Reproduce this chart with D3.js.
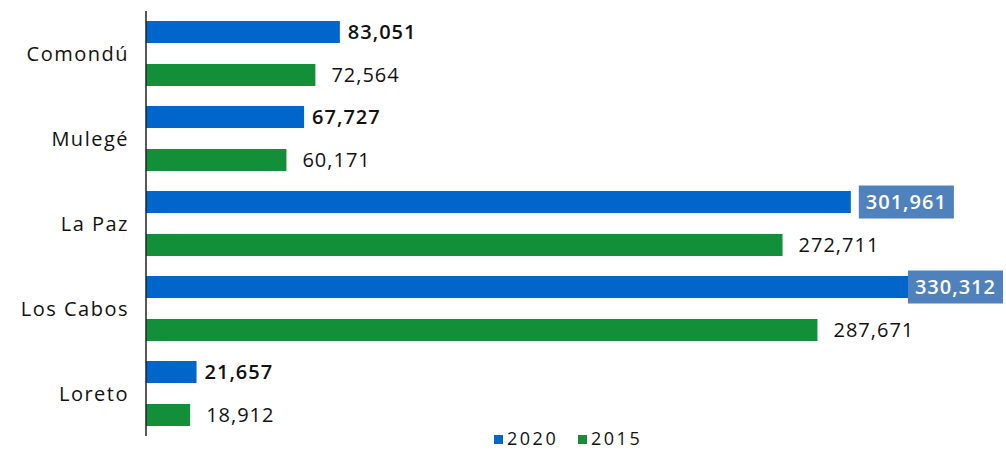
<!doctype html>
<html>
<head>
  <meta charset="utf-8">
  <title>Población por municipio</title>
  <style>
    body { margin: 0; background: #fff; }
    svg { display: block; font-family: "Open Sans", sans-serif; }
  </style>
</head>
<body>
  <div id="vis"></div>
  <script src="https://cdn.jsdelivr.net/npm/d3@7"></script>
  <script>
    var municipios = ["Comondú", "Mulegé", "La Paz", "Los Cabos", "Loreto"];
    var series = ["2020", "2015"];
    var pob2020 = [83051, 67727, 301961, 330312, 21657];
    var pob2015 = [72564, 60171, 272711, 287671, 18912];
    var resaltados = ["La Paz", "Los Cabos"];
    var colores = { "2020": "#0066CC", "2015": "#138F3A" };

    var w = 1006, h = 451;
    var fmt = d3.format(",");

    var svg = d3.select("#vis").append("svg")
      .attr("width", w)
      .attr("height", h);

    var y0 = d3.scaleBand()
      .domain(municipios)
      .range([11, 436]);

    var y1 = d3.scaleBand()
      .domain(series)
      .range([0, y0.bandwidth()])
      .paddingInner(0.488)
      .paddingOuter(0.233);

    var x = d3.scaleLinear()
      .domain([0, 330312])
      .range([146, 917]);

    var dataset = [];
    municipios.forEach(function(m, i) {
      dataset.push({ m: m, s: "2020", v: pob2020[i] });
      dataset.push({ m: m, s: "2015", v: pob2015[i] });
    });

    svg.selectAll("rect.bar")
      .data(dataset)
      .enter()
      .append("rect")
      .attr("class", "bar")
      .attr("x", x(0))
      .attr("y", function(d) { return y0(d.m) + y1(d.s); })
      .attr("width", function(d) { return x(d.v) - x(0); })
      .attr("height", y1.bandwidth())
      .attr("fill", function(d) { return colores[d.s]; });

    // etiquetas de valores
    var labels = svg.selectAll("g.lbl")
      .data(dataset)
      .enter()
      .append("g")
      .attr("class", "lbl");

    labels.each(function(d) {
      var g = d3.select(this);
      var boxed = d.s == "2020" && resaltados.indexOf(d.m) >= 0;
      var cy = y0(d.m) + y1(d.s) + y1.bandwidth() / 2;
      var t = g.append("text")
        .attr("dy", "0.36em")
        .style("font-size", "20px")
        .style("letter-spacing", "1px")
        .style("font-weight", d.s == "2020" ? 600 : 400)
        .attr("fill", boxed ? "#fff" : "#111")
        .text(fmt(d.v));
      var tw = t.node().getComputedTextLength();
      if (boxed) {
        var bw = tw + 14;
        var bx = Math.min(x(d.v) + 8, w - 3 - bw);
        g.insert("rect", "text")
          .attr("x", bx)
          .attr("y", cy - 16.5)
          .attr("width", bw)
          .attr("height", 33)
          .attr("fill", "#4F81BD");
        t.attr("x", bx + 7).attr("y", cy);
      } else {
        var off = d.s == "2020" ? 8 : 16;
        t.attr("x", x(d.v) + off).attr("y", cy);
      }
    });

    // eje vertical
    svg.append("line")
      .attr("x1", 146).attr("x2", 146)
      .attr("y1", 11).attr("y2", 436)
      .attr("stroke", "#222")
      .attr("stroke-width", 1.5);

    svg.selectAll("text.cat")
      .data(municipios)
      .enter()
      .append("text")
      .attr("class", "cat")
      .attr("x", 129)
      .attr("y", function(d) { return y0(d) + y0.bandwidth() / 2; })
      .attr("dy", "0.36em")
      .attr("text-anchor", "end")
      .style("font-size", "20px")
      .style("letter-spacing", "1.5px")
      .attr("fill", "#111")
      .text(function(d) { return d; });

    // leyenda
    var leg = svg.selectAll("g.leg")
      .data(series)
      .enter()
      .append("g")
      .attr("class", "leg")
      .attr("transform", function(d, i) { return "translate(" + (494 + i * 84) + ",439)"; });

    leg.append("rect")
      .attr("x", 0).attr("y", -4)
      .attr("width", 9).attr("height", 9)
      .attr("fill", function(d) { return colores[d]; });

    leg.append("text")
      .attr("x", 13)
      .attr("dy", "0.34em")
      .style("font-size", "18px")
      .style("letter-spacing", "2.5px")
      .attr("fill", "#111")
      .text(function(d) { return d; });
  </script>
</body>
</html>
